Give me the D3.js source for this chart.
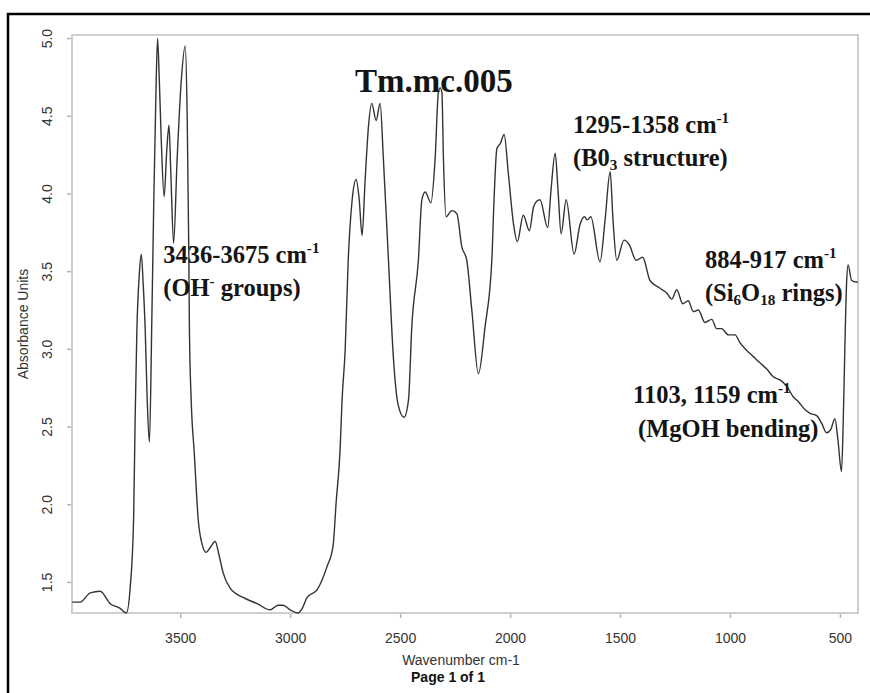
<!DOCTYPE html>
<html>
<head>
<meta charset="utf-8">
<script src="https://cdn.jsdelivr.net/npm/d3@7"></script>
<style>
  html, body { margin: 0; padding: 0; background: #fff; overflow: hidden; }
  #chart { width: 870px; height: 693px; }
  #chart svg { display: block; }
</style>
</head>
<body>
<div id="chart"></div>
<script>
// spectrum: wavenumber (cm-1) and absorbance
const wavenumbers = [3991, 3955, 3909, 3864, 3818, 3773, 3745, 3727, 3712, 3705, 3697, 3686, 3677, 3668, 3659, 3650, 3640, 3629, 3620, 3611,
	3603, 3595, 3586, 3573, 3561, 3551, 3543, 3530, 3514, 3495, 3477, 3468, 3461, 3458, 3450, 3436, 3418, 3400, 3382, 3364,
	3341, 3323, 3305, 3273, 3214, 3150, 3091, 3055, 3032, 3000, 2964, 2945, 2923, 2877, 2832, 2805, 2791, 2773, 2764, 2750,
	2736, 2718, 2700, 2686, 2673, 2659, 2644, 2629, 2609, 2591, 2576, 2553, 2530, 2509, 2482, 2462, 2447, 2417, 2401, 2386,
	2360, 2341, 2326, 2318, 2310, 2303, 2291, 2265, 2242, 2220, 2197, 2174, 2144, 2114, 2083, 2073, 2060, 2045, 2027, 2008,
	1985, 1967, 1940, 1912, 1894, 1879, 1864, 1829, 1814, 1795, 1782, 1768, 1745, 1709, 1682, 1662, 1649, 1633, 1591, 1568,
	1545, 1532, 1515, 1482, 1458, 1427, 1397, 1364, 1318, 1288, 1265, 1242, 1215, 1190, 1167, 1144, 1114, 1083, 1061, 1038,
	1008, 977, 955, 924, 894, 864, 833, 803, 773, 742, 712, 689, 659, 636, 606, 583, 561, 542, 523, 509,
	493, 485, 478, 470, 463, 447, 425, 419];

const absorbance = [1.37, 1.37, 1.43, 1.44, 1.36, 1.33, 1.30, 1.47, 1.90, 2.54, 3.12, 3.48, 3.61, 3.41, 3.12, 2.67, 2.40, 3.19, 3.96, 4.60,
	5.00, 4.73, 4.34, 3.98, 4.28, 4.44, 4.15, 3.68, 4.22, 4.73, 4.95, 4.47, 3.64, 3.12, 2.67, 2.33, 1.90, 1.74, 1.69, 1.72,
	1.76, 1.67, 1.56, 1.46, 1.40, 1.36, 1.32, 1.35, 1.35, 1.32, 1.30, 1.33, 1.40, 1.45, 1.60, 1.73, 2.01, 2.35, 2.67, 2.99,
	3.57, 3.96, 4.09, 3.96, 3.73, 4.09, 4.43, 4.58, 4.47, 4.58, 4.22, 3.57, 2.93, 2.64, 2.56, 2.67, 3.14, 3.57, 3.96, 4.01,
	3.94, 4.22, 4.65, 4.68, 4.65, 4.22, 3.85, 3.89, 3.87, 3.66, 3.57, 3.25, 2.84, 3.14, 3.57, 3.96, 4.29, 4.32, 4.38, 4.13,
	3.81, 3.69, 3.86, 3.76, 3.91, 3.95, 3.96, 3.78, 4.02, 4.26, 4.02, 3.74, 3.96, 3.61, 3.80, 3.85, 3.83, 3.85, 3.56, 3.83,
	4.14, 3.83, 3.57, 3.70, 3.67, 3.57, 3.59, 3.44, 3.39, 3.36, 3.32, 3.38, 3.29, 3.31, 3.24, 3.25, 3.17, 3.19, 3.13, 3.13,
	3.09, 3.09, 3.04, 2.99, 2.95, 2.91, 2.87, 2.82, 2.80, 2.76, 2.69, 2.66, 2.61, 2.585, 2.57, 2.52, 2.46, 2.48, 2.55, 2.41,
	2.21, 2.54, 2.99, 3.42, 3.54, 3.44, 3.43, 3.43];

const xTicks = [3500, 3000, 2500, 2000, 1500, 1000, 500];
const yTicks = [1.5, 2.0, 2.5, 3.0, 3.5, 4.0, 4.5, 5.0];

const sampleName = 'Tm.mc.005';
const xLabel = 'Wavenumber cm-1';
const yLabel = 'Absorbance Units';
const footer = 'Page 1 of 1';

// band labels, each line split into [text, 'sup' | 'sub' | '']
const bandLines = [
	[['3436-3675 cm', ''], ['-1', 'sup']],
	[['(OH', ''], ['-', 'sup'], [' groups)', '']],
	[['1295-1358 cm', ''], ['-1', 'sup']],
	[['(B0', ''], ['3', 'sub'], [' structure)', '']],
	[['884-917 cm', ''], ['-1', 'sup']],
	[['(Si', ''], ['6', 'sub'], ['O', ''], ['18', 'sub'], [' rings)', '']],
	[['1103, 1159 cm', ''], ['-1', 'sup']],
	[['(MgOH bending)', '']]
];

const width = 870,
	height = 693,
	margin = {top: 35, right: 12, bottom: 80, left: 72},
	innerWidth = width - margin.left - margin.right,
	innerHeight = height - margin.top - margin.bottom;

const svg = d3.select('#chart')
	.append('svg')
	.attr('width', width)
	.attr('height', height);

// outer page frame (runs off the right and bottom edges)
svg.append('rect')
	.attr('x', 8)
	.attr('y', 14)
	.attr('width', 900)
	.attr('height', 700)
	.style('fill', 'none')
	.style('stroke', '#000')
	.style('stroke-width', 2.5);

// ----------------------------------
// scales
// ----------------------------------
const xScale = d3.scaleLinear()
	.domain([3992, 418])
	.range([0, innerWidth]);

const yScale = d3.scaleLinear()
	.domain([1.30, 5.02])
	.range([innerHeight, 0]);

const chart = svg.append('g')
	.attr('transform', `translate(${margin.left},${margin.top})`);

const xAxis = d3.axisBottom(xScale)
	.tickValues(xTicks)
	.tickSizeInner(5)
	.tickSizeOuter(0)
	.tickPadding(15)
	.tickFormat(d3.format('d'));

const yAxis = d3.axisLeft(yScale)
	.tickValues(yTicks)
	.tickSizeInner(5)
	.tickSizeOuter(0)
	.tickFormat(d3.format('.1f'));

const gx = chart.append('g')
	.attr('class', 'x axis')
	.attr('transform', `translate(0,${innerHeight})`)
	.call(xAxis);

const gy = chart.append('g')
	.attr('class', 'y axis')
	.call(yAxis);

[gx, gy].forEach(g => {
	g.attr('font-family', '"Liberation Sans", Arial, sans-serif')
		.attr('font-size', 14);
	g.select('.domain').remove();
	g.selectAll('.tick line').attr('stroke', '#b5b5b5').attr('stroke-width', 1.5);
	g.selectAll('.tick text').attr('fill', '#333');
});

// y tick labels stand on end, like R's default
gy.selectAll('.tick text')
	.attr('x', null)
	.attr('text-anchor', 'middle')
	.attr('transform', 'translate(-25,0) rotate(-90)')
	.attr('dy', '0.35em');

// plot box
chart.append('rect')
	.attr('width', innerWidth)
	.attr('height', innerHeight)
	.style('fill', 'none')
	.style('stroke', '#cfcfcf')
	.style('stroke-width', 2);

// the spectrum
const spectrum = wavenumbers.map((w, i) => ({w: w, a: absorbance[i]}));

const line = d3.line()
	.curve(d3.curveMonotoneX)
	.x(d => xScale(d.w))
	.y(d => yScale(d.a));

chart.append('path')
	.datum(spectrum)
	.attr('d', line)
	.style('fill', 'none')
	.style('stroke', '#333')
	.style('stroke-width', 1.4)
	.style('stroke-linejoin', 'round');

// axis titles
const labels = svg.append('g')
	.style('font-family', '"Liberation Sans", Arial, sans-serif')
	.style('font-size', '14px')
	.style('fill', '#333');

labels.append('text')
	.attr('x', 461)
	.attr('y', 665)
	.attr('text-anchor', 'middle')
	.text(xLabel);

labels.append('text')
	.attr('x', 448)
	.attr('y', 682)
	.attr('text-anchor', 'middle')
	.style('font-weight', 'bold')
	.style('fill', '#111')
	.text(footer);

labels.append('text')
	.attr('transform', `translate(28,${margin.top + innerHeight / 2}) rotate(-90)`)
	.attr('text-anchor', 'middle')
	.text(yLabel);

// ----------------------------------
// band annotations
// ----------------------------------
const notes = chart.append('g')
	.style('font-family', '"Liberation Serif", "Times New Roman", serif')
	.style('font-weight', 'bold')
	.style('fill', '#141414');

notes.append('text')
	.attr('x', xScale(2705))
	.attr('y', yScale(4.65))
	.style('font-size', '33px')
	.text(sampleName);

function richText(x, y, parts, size){
	const t = notes.append('text')
		.attr('x', x)
		.attr('y', y)
		.style('font-size', `${size}px`);
	let shift = 0;
	parts.forEach(([str, kind]) => {
		const target = kind === 'sup' ? -0.42 * size : kind === 'sub' ? 0.18 * size : 0;
		t.append('tspan')
			.attr('dy', target - shift)
			.style('font-size', kind ? `${size * 0.62}px` : `${size}px`)
			.text(str);
		shift = target;
	});
}

// anchor points in data units (wavenumber, absorbance)
const anchors = [[3577, 3.55], [3577, 3.34], [1714, 4.39], [1714, 4.18],
	[1114, 3.52], [1114, 3.31], [1441, 2.65], [1418, 2.43]];

bandLines.forEach((parts, i) => {
	richText(xScale(anchors[i][0]), yScale(anchors[i][1]), parts, 24.5);
});
</script>
</body>
</html>
